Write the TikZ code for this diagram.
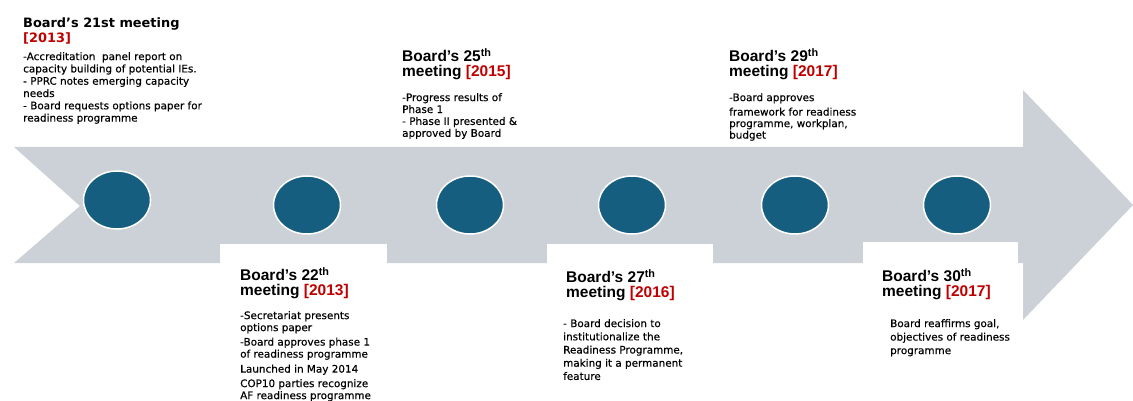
\documentclass[tikz,border=0pt]{standalone}
\usepackage{fontspec}
\usetikzlibrary{shapes.geometric}
\newfontfamily\headfont{Liberation Sans}
\newfontfamily\bodyfont[FakeBold=0.4]{DejaVu Sans}
\newfontfamily\firstfont{DejaVu Sans}
\definecolor{bandgray}{RGB}{204,209,215}
\definecolor{dotblue}{RGB}{22,94,128}
\definecolor{yearred}{RGB}{192,0,0}
\newcommand{\yr}[1]{\textcolor{yearred}{#1}}
\tikzset{
  meetdot/.style={ellipse, fill=dotblue, draw=white, line width=1.5pt,
    minimum width=67pt, minimum height=58pt, inner sep=0pt},
  headtext/.style={anchor=north west, align=left, inner sep=0pt,
    font=\headfont\bfseries\fontsize{15.5}{15}\selectfont},
  firsttext/.style={anchor=north west, align=left, inner sep=0pt,
    font=\firstfont\bfseries\fontsize{12.9}{14.7}\selectfont},
  bodytext/.style={anchor=north west, align=left, inner sep=0pt,
    font=\bodyfont\fontsize{10.4}{12.3}\selectfont}
}
\begin{document}
\begin{tikzpicture}[x=1pt, y=-1pt, line join=round]
\useasboundingbox (0,0) rectangle (1133,401);
\path
  (14,147) coordinate (A)
  (1023,147) coordinate (B)
  (1023,90) coordinate (C)
  (1133,205) coordinate (T)
  (1023,320) coordinate (D)
  (1023,263) coordinate (E)
  (14,263) coordinate (F)
  (80,206) coordinate (N)
  ;
\fill[bandgray] (A)--(B)--(C)--(T)--(D)--(E)--(F)--(N)--cycle;
\fill[white] (220,244) rectangle (387,265);
\fill[white] (547,244) rectangle (713,265);
\fill[white] (863,242) rectangle (1018,265);

\node[meetdot] (d21) at (117,200) {};
\node[meetdot] (d22) at (307,205) {};
\node[meetdot] (d25) at (470,205) {};
\node[meetdot] (d27) at (632,205) {};
\node[meetdot] (d29) at (795,205) {};
\node[meetdot] (d30) at (957,205) {};

\node[firsttext] (h21) at (23,18) {Board’s 21st meeting\\\yr{[2013]}};
\node[bodytext] (b21) at (23,52) {-Accreditation\ \ panel report on\\
  capacity building of potential IEs.\\
  - PPRC notes emerging capacity\\
  needs\\
  - Board requests options paper for\\
  readiness programme};

\node[headtext] (h25) at (402,48) {Board’s 25\textsuperscript{th}\\meeting \yr{[2015]}};
\node[bodytext, font=\bodyfont\fontsize{10.4}{11.9}\selectfont] (b25) at (402,93)
  {-Progress results of\\Phase 1\\- Phase II presented \&\\approved by Board};

\node[headtext] (h29) at (729,48) {Board’s 29\textsuperscript{th}\\meeting \yr{[2017]}};
\node[bodytext, font=\bodyfont\fontsize{10.4}{11.5}\selectfont] (b29) at (729,93)
  {-Board approves\\[3pt]framework for readiness\\programme, workplan,\\budget};

\node[headtext] (h22) at (240,267) {Board’s 22\textsuperscript{th}\\meeting \yr{[2013]}};
\node[bodytext, font=\bodyfont\fontsize{10.4}{12}\selectfont] (b22) at (240,311)
  {-Secretariat presents\\options paper\\[2.5pt]
  -Board approves phase 1\\of readiness programme\\[3pt]
  Launched in May 2014\\[2.5pt]
  COP10 parties recognize\\AF readiness programme};

\node[headtext] (h27) at (566,269) {Board’s 27\textsuperscript{th}\\meeting \yr{[2016]}};
\node[bodytext, font=\bodyfont\fontsize{10.4}{13.2}\selectfont] (b27) at (563,319)
  {- Board decision to\\institutionalize the\\Readiness Programme,\\making it a permanent\\feature};

\node[headtext] (h30) at (882,268) {Board’s 30\textsuperscript{th}\\meeting \yr{[2017]}};
\node[bodytext, font=\bodyfont\fontsize{10.4}{13.5}\selectfont] (b30) at (890,319)
  {Board reaffirms goal,\\objectives of readiness\\programme};
\end{tikzpicture}
\end{document}
